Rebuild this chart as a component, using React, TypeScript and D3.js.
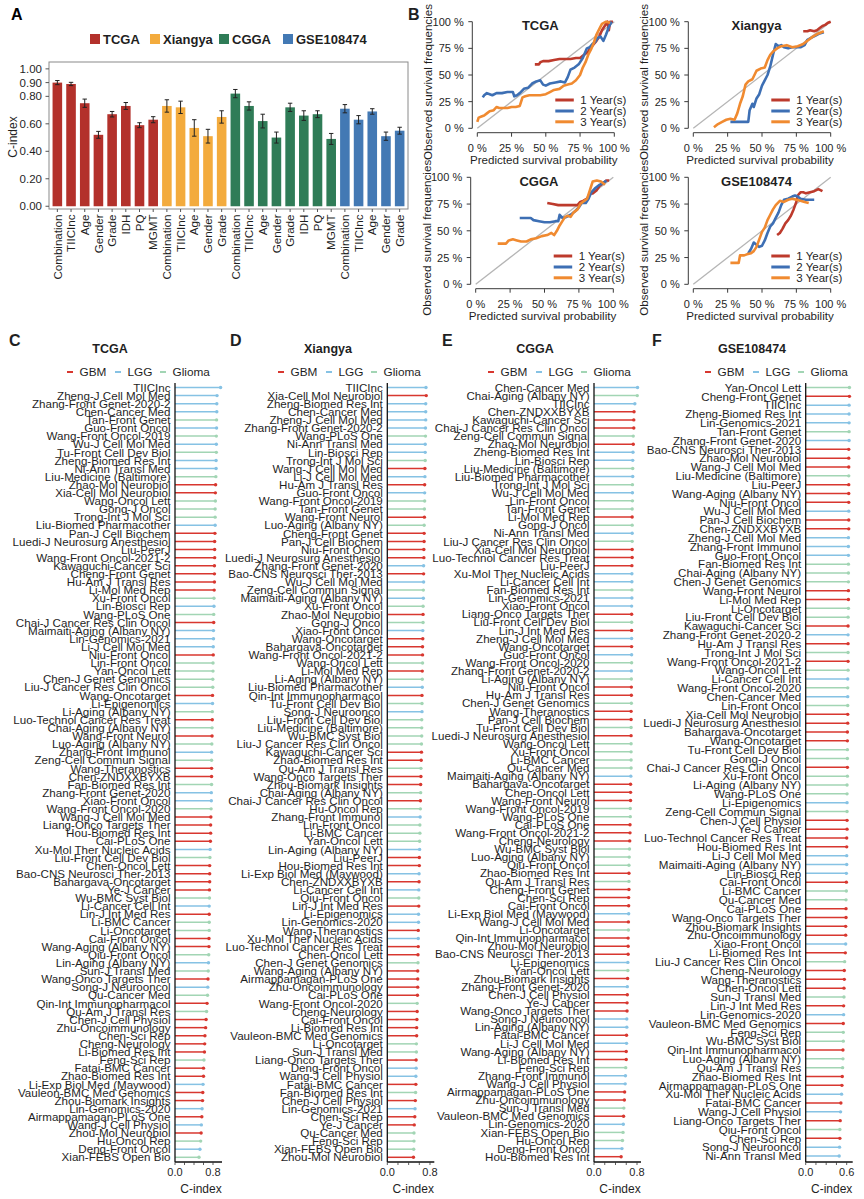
import { useEffect, useRef } from 'react'
import * as d3 from 'd3'

// ---------------- Panel A: C-index bars ----------------
const cohorts = ['TCGA', 'Xiangya', 'CGGA', 'GSE108474']
const cohortColors = ['#b3312b', '#f3ab3d', '#2f7c57', '#4379b4']

const barLabels = [
  'Combination', 'TIICInc', 'Age', 'Gender', 'Grade', 'IDH', 'PQ', 'MGMT',
  'Combination', 'TIICInc', 'Age', 'Gender', 'Grade',
  'Combination', 'TIICInc', 'Age', 'Gender', 'Grade', 'IDH', 'PQ', 'MGMT',
  'Combination', 'TIICInc', 'Age', 'Gender', 'Grade',
]
const barCohort = [0, 0, 0, 0, 0, 0, 0, 0, 1, 1, 1, 1, 1, 2, 2, 2, 2, 2, 2, 2, 2, 3, 3, 3, 3, 3]
const barValues = [
  0.90, 0.89, 0.75, 0.52, 0.67, 0.73, 0.59, 0.63,
  0.73, 0.72, 0.57, 0.51, 0.65,
  0.82, 0.73, 0.62, 0.50, 0.72, 0.66, 0.67, 0.49,
  0.71, 0.63, 0.69, 0.51, 0.55,
]
const barErrors = [
  0.015, 0.012, 0.03, 0.025, 0.02, 0.025, 0.018, 0.022,
  0.045, 0.045, 0.06, 0.05, 0.045,
  0.03, 0.03, 0.05, 0.04, 0.03, 0.035, 0.025, 0.04,
  0.03, 0.03, 0.02, 0.03, 0.025,
]
const yTicksA = [0, 0.2, 0.4, 0.6, 0.8, 0.9, 1.0]

// ---------------- Panel B: calibration curves (percent) ----------------
const yearLabels = ['1 Year(s)', '2 Year(s)', '3 Year(s)']
const yearColors = ['#bd3a2c', '#3d6fb4', '#f08a30']
const calTicks = [0, 25, 50, 75, 100]

const tcga1y = [[42, 60], [45, 60], [46, 62], [48, 63], [52, 63], [56, 64], [60, 65], [64, 65], [68, 65], [72, 66], [75, 66], [77, 68], [79, 70], [81, 72], [83, 76], [85, 79], [87, 82], [89, 86], [91, 92], [93, 96], [95, 100], [96, 92], [97, 100], [99, 100]]
const tcga2y = [[4, 29], [5, 31], [7, 33], [9, 32], [11, 31], [14, 33], [18, 33], [22, 34], [26, 34], [27, 30], [29, 31], [31, 33], [34, 37], [37, 38], [40, 42], [43, 44], [46, 45], [48, 41], [50, 40], [53, 42], [57, 43], [61, 44], [64, 43], [66, 48], [68, 55], [71, 57], [74, 60], [77, 66], [80, 75], [82, 76], [84, 79], [86, 81], [88, 85], [90, 86], [92, 82], [94, 88], [96, 95], [98, 100]]
const tcga3y = [[0, 6], [1, 10], [3, 11], [5, 12], [7, 14], [9, 16], [12, 17], [14, 20], [16, 19], [19, 19], [22, 19], [25, 20], [28, 20], [31, 21], [33, 29], [35, 30], [38, 31], [42, 31], [46, 31], [50, 32], [53, 34], [56, 36], [60, 37], [63, 40], [66, 41], [69, 42], [72, 45], [75, 50], [77, 57], [79, 62], [81, 69], [83, 74], [85, 80], [87, 88], [89, 93], [91, 98], [94, 100], [97, 99]]

const xiangya1y = [[80, 91], [83, 91], [85, 92], [88, 91], [90, 92], [92, 94], [94, 96], [96, 97], [98, 99], [100, 100]]
const xiangya2y = [[27, 6], [31, 6], [36, 6], [40, 6], [41, 17], [43, 23], [44, 20], [46, 28], [48, 32], [50, 40], [52, 45], [54, 50], [56, 58], [58, 69], [60, 79], [62, 77], [64, 78], [66, 76], [69, 75], [72, 76], [75, 76], [78, 76], [81, 78], [83, 83], [86, 85], [89, 87], [92, 89], [95, 90]]
const xiangya3y = [[15, 1], [18, 4], [21, 6], [24, 8], [27, 9], [30, 8], [32, 14], [34, 23], [36, 30], [38, 41], [40, 44], [43, 46], [46, 54], [49, 56], [52, 57], [54, 64], [56, 69], [58, 72], [61, 75], [64, 77], [68, 78], [72, 76], [76, 77], [80, 79], [84, 83], [87, 86], [91, 89], [95, 91]]

const cgga1y = [[52, 76], [56, 75], [60, 74], [65, 74], [70, 74], [74, 74], [76, 77], [78, 78], [81, 80], [83, 85], [85, 85], [88, 88], [90, 92], [92, 94], [95, 97], [97, 97]]
const cgga2y = [[32, 62], [36, 62], [40, 62], [42, 60], [46, 59], [50, 58], [54, 58], [58, 59], [60, 59], [61, 65], [63, 62], [66, 63], [69, 65], [72, 68], [75, 72], [77, 76], [80, 76], [82, 80], [84, 86], [87, 90], [90, 93], [93, 95], [95, 97]]
const cgga3y = [[16, 38], [20, 38], [22, 38], [24, 41], [27, 42], [30, 41], [33, 40], [37, 40], [40, 42], [44, 43], [48, 45], [52, 46], [55, 48], [57, 46], [59, 50], [61, 55], [63, 59], [65, 63], [67, 64], [69, 63], [71, 67], [74, 70], [76, 75], [79, 78], [81, 80], [83, 88], [85, 96], [88, 97], [91, 96], [94, 93]]

const gse1y = [[61, 46], [63, 48], [65, 52], [67, 57], [69, 60], [71, 64], [73, 70], [75, 77], [76, 83], [78, 86], [80, 86], [82, 85], [85, 86], [88, 87], [91, 89], [94, 87]]
const gse2y = [[40, 29], [42, 33], [44, 39], [46, 37], [48, 35], [50, 36], [52, 41], [54, 48], [56, 54], [58, 57], [60, 62], [62, 67], [64, 74], [66, 79], [69, 80], [72, 82], [74, 83], [76, 82], [78, 80], [82, 79], [85, 79], [88, 79]]
const gse3y = [[27, 20], [30, 20], [33, 20], [34, 27], [37, 27], [39, 28], [42, 29], [44, 31], [46, 35], [48, 42], [50, 49], [52, 53], [54, 60], [56, 65], [58, 70], [60, 74], [63, 78], [66, 77], [69, 79], [72, 80], [75, 79], [78, 78], [81, 77], [84, 76]]

// ---------------- Panels C-F: published signatures ----------------
const sigTypes = ['GBM', 'LGG', 'Glioma']
const sigColors = ['#d8372f', '#86c2e4', '#a2d5b4']

const gbmSigs = [
  'Zhao-Mol Neurobiol', 'Xia-Cell Mol Neurobiol', 'Pan-J Cell Biochem', 'Luedi-J Neurosurg Anesthesiol', 'Liu-PeerJ',
  'Wang-Front Oncol-2021-2', 'Kawaguchi-Cancer Sci', 'Cheng-Front Genet', 'Hu-Am J Transl Res', 'Li-Mol Med Rep',
  'Chai-J Cancer Res Clin Oncol', 'Niu-Front Oncol', 'Wang-Oncotarget', 'Luo-Technol Cancer Res Treat', 'Wang-Front Neurol',
  'Wang-Theranostics', 'Chen-ZNDXXBYXB', 'Wang-J Cell Mol Med', 'Liang-Onco Targets Ther', 'Hou-Biomed Res Int',
  'Cai-PLoS One', 'Chen-Oncol Lett', 'Bao-CNS Neurosci Ther-2013', 'Bahargava-Oncotarget', 'Ye-J Cancer',
  'Cai-Front Oncol', 'Wang-Aging (Albany NY)', 'Wang-Onco Targets Ther', 'Qin-Int Immunopharmacol', 'Chen-J Cell Physiol',
  'Zhu-Oncoimmunology', 'Chen-Sci Rep', 'Cheng-Neurology', 'Li-Biomed Res Int', 'Fatai-BMC Cancer',
  'Zhao-Biomed Res Int', 'Vauleon-BMC Med Genomics', 'Zhou-Biomark Insights', 'Airmappamagan-PLoS One', 'Zhou-Mol Neurobiol',
  'Lin-J Int Med Res',
]
const lggSigs = [
  'TIICInc', 'Zheng-J Cell Mol Med', 'Zhang-Front Genet-2020-2', 'Chen-Cancer Med', 'Guo-Front Oncol',
  'Wu-J Cell Mol Med', 'Zheng-Biomed Res Int', 'Ni-Ann Transl Med', 'Liu-Biomed Pharmacother', 'Lin-Biosci Rep',
  'Maimaiti-Aging (Albany NY)', 'Lin-Genomics-2021', 'Li-J Cell Mol Med', 'Li-Epigenomics', 'Zhang-Front Immunol',
  'Zhang-Front Genet-2020', 'Xiao-Front Oncol', 'Xu-Mol Ther Nucleic Acids', 'Li-Cancer Cell Int', 'Lin-Aging (Albany NY)',
  'Song-J Neurooncol', 'Li-Exp Biol Med (Maywood)', 'Lin-Genomics-2020', 'Wang-J Cell Physiol', 'Deng-Front Oncol',
]

const tcgaSigs = [
  'TIICInc', 'Zheng-J Cell Mol Med', 'Zhang-Front Genet-2020-2', 'Chen-Cancer Med', 'Tan-Front Genet', 'Guo-Front Oncol',
  'Wang-Front Oncol-2019', 'Wu-J Cell Mol Med', 'Tu-Front Cell Dev Biol', 'Zheng-Biomed Res Int', 'Ni-Ann Transl Med',
  'Liu-Medicine (Baltimore)', 'Zhao-Mol Neurobiol', 'Xia-Cell Mol Neurobiol', 'Wang-Oncol Lett', 'Gong-J Oncol',
  'Trong-Int J Mol Sci', 'Liu-Biomed Pharmacother', 'Pan-J Cell Biochem', 'Luedi-J Neurosurg Anesthesiol', 'Liu-PeerJ',
  'Wang-Front Oncol-2021-2', 'Kawaguchi-Cancer Sci', 'Cheng-Front Genet', 'Hu-Am J Transl Res', 'Li-Mol Med Rep',
  'Xu-Front Oncol', 'Lin-Biosci Rep', 'Wang-PLoS One', 'Chai-J Cancer Res Clin Oncol', 'Maimaiti-Aging (Albany NY)',
  'Lin-Genomics-2021', 'Li-J Cell Mol Med', 'Niu-Front Oncol', 'Lin-Front Oncol', 'Yan-Oncol Lett',
  'Chen-J Genet Genomics', 'Liu-J Cancer Res Clin Oncol', 'Wang-Oncotarget', 'Li-Epigenomics', 'Li-Aging (Albany NY)',
  'Luo-Technol Cancer Res Treat', 'Chai-Aging (Albany NY)', 'Wang-Front Neurol', 'Luo-Aging (Albany NY)', 'Zhang-Front Immunol',
  'Zeng-Cell Commun Signal', 'Wang-Theranostics', 'Chen-ZNDXXBYXB', 'Fan-Biomed Res Int', 'Zhang-Front Genet-2020',
  'Xiao-Front Oncol', 'Wang-Front Oncol-2020', 'Wang-J Cell Mol Med', 'Liang-Onco Targets Ther', 'Hou-Biomed Res Int',
  'Cai-PLoS One', 'Xu-Mol Ther Nucleic Acids', 'Liu-Front Cell Dev Biol', 'Chen-Oncol Lett', 'Bao-CNS Neurosci Ther-2013',
  'Bahargava-Oncotarget', 'Ye-J Cancer', 'Wu-BMC Syst Biol', 'Li-Cancer Cell Int', 'Lin-J Int Med Res',
  'Li-BMC Cancer', 'Li-Oncotarget', 'Cai-Front Oncol', 'Wang-Aging (Albany NY)', 'Qiu-Front Oncol',
  'Lin-Aging (Albany NY)', 'Sun-J Transl Med', 'Wang-Onco Targets Ther', 'Song-J Neurooncol', 'Qu-Cancer Med',
  'Qin-Int Immunopharmacol', 'Qu-Am J Transl Res', 'Chen-J Cell Physiol', 'Zhu-Oncoimmunology', 'Chen-Sci Rep',
  'Cheng-Neurology', 'Li-Biomed Res Int', 'Feng-Sci Rep', 'Fatai-BMC Cancer', 'Zhao-Biomed Res Int',
  'Li-Exp Biol Med (Maywood)', 'Vauleon-BMC Med Genomics', 'Zhou-Biomark Insights', 'Lin-Genomics-2020', 'Airmappamagan-PLoS One',
  'Wang-J Cell Physiol', 'Zhou-Mol Neurobiol', 'Hu-Oncol Rep', 'Deng-Front Oncol', 'Xian-FEBS Open Bio',
]
const tcgaValues = [
  0.96, 0.885, 0.88, 0.88, 0.875, 0.875, 0.87, 0.87, 0.87, 0.865, 0.865, 0.86,
  0.855, 0.85, 0.85, 0.845, 0.845, 0.845, 0.84, 0.835, 0.835, 0.835, 0.83, 0.83, 0.83, 0.825,
  0.82, 0.82, 0.815, 0.815, 0.81, 0.81, 0.805, 0.805, 0.80,
  0.80, 0.795, 0.795, 0.79, 0.79, 0.785, 0.785, 0.78, 0.78, 0.775, 0.77,
  0.77, 0.77, 0.77, 0.77, 0.765, 0.765, 0.76, 0.755, 0.75, 0.75, 0.745, 0.74, 0.735, 0.73,
  0.73, 0.73, 0.725, 0.725, 0.72, 0.72, 0.72, 0.72, 0.715, 0.715,
  0.71, 0.705, 0.70, 0.695, 0.69, 0.685, 0.675, 0.665, 0.655, 0.645,
  0.63, 0.625, 0.62, 0.61, 0.60, 0.60, 0.59, 0.585, 0.58, 0.57,
  0.565, 0.555, 0.55, 0.54, 0.525, 0.505,
]

const xiangyaSigs = [
  'TIICInc', 'Xia-Cell Mol Neurobiol', 'Zheng-Biomed Res Int', 'Chen-Cancer Med', 'Zheng-J Cell Mol Med',
  'Zhang-Front Genet-2020-2', 'Wang-PLoS One', 'Ni-Ann Transl Med', 'Lin-Biosci Rep', 'Trong-Int J Mol Sci',
  'Wang-J Cell Mol Med', 'Li-J Cell Mol Med', 'Hu-Am J Transl Res', 'Guo-Front Oncol', 'Wang-Front Oncol-2019',
  'Tan-Front Genet', 'Wang-Front Neurol', 'Luo-Aging (Albany NY)', 'Cheng-Front Genet', 'Pan-J Cell Biochem',
  'Niu-Front Oncol', 'Luedi-J Neurosurg Anesthesiol', 'Zhang-Front Genet-2020', 'Bao-CNS Neurosci Ther-2013', 'Wu-J Cell Mol Med',
  'Zeng-Cell Commun Signal', 'Maimaiti-Aging (Albany NY)', 'Xu-Front Oncol', 'Zhao-Mol Neurobiol', 'Gong-J Oncol',
  'Xiao-Front Oncol', 'Wang-Oncotarget', 'Bahargava-Oncotarget', 'Wang-Front Oncol-2021-2', 'Wang-Oncol Lett',
  'Li-Mol Med Rep', 'Li-Aging (Albany NY)', 'Liu-Biomed Pharmacother', 'Qin-Int Immunopharmacol', 'Tu-Front Cell Dev Biol',
  'Song-J Neurooncol', 'Liu-Front Cell Dev Biol', 'Liu-Medicine (Baltimore)', 'Wu-BMC Syst Biol', 'Liu-J Cancer Res Clin Oncol',
  'Kawaguchi-Cancer Sci', 'Zhao-Biomed Res Int', 'Qu-Am J Transl Res', 'Wang-Onco Targets Ther', 'Zhou-Biomark Insights',
  'Chai-Aging (Albany NY)', 'Chai-J Cancer Res Clin Oncol', 'Hu-Oncol Rep', 'Zhang-Front Immunol', 'Lin-Front Oncol',
  'Li-BMC Cancer', 'Yan-Oncol Lett', 'Lin-Aging (Albany NY)', 'Liu-PeerJ', 'Hou-Biomed Res Int',
  'Li-Exp Biol Med (Maywood)', 'Chen-ZNDXXBYXB', 'Li-Cancer Cell Int', 'Qiu-Front Oncol', 'Lin-J Int Med Res',
  'Li-Epigenomics', 'Lin-Genomics-2020', 'Wang-Theranostics', 'Xu-Mol Ther Nucleic Acids', 'Luo-Technol Cancer Res Treat',
  'Chen-Oncol Lett', 'Chen-J Genet Genomics', 'Wang-Aging (Albany NY)', 'Airmappamagan-PLoS One', 'Zhu-Oncoimmunology',
  'Cai-PLoS One', 'Wang-Front Oncol-2020', 'Cheng-Neurology', 'Cai-Front Oncol', 'Li-Biomed Res Int',
  'Vauleon-BMC Med Genomics', 'Li-Oncotarget', 'Sun-J Transl Med', 'Liang-Onco Targets Ther', 'Deng-Front Oncol',
  'Wang-J Cell Physiol', 'Fatai-BMC Cancer', 'Fan-Biomed Res Int', 'Chen-J Cell Physiol', 'Lin-Genomics-2021',
  'Chen-Sci Rep', 'Ye-J Cancer', 'Qu-Cancer Med', 'Feng-Sci Rep', 'Xian-FEBS Open Bio', 'Zhou-Mol Neurobiol',
]
const xiangyaValues = [
  0.725, 0.73, 0.72, 0.72, 0.72, 0.715, 0.715, 0.71, 0.71, 0.71,
  0.705, 0.705, 0.70, 0.70, 0.70, 0.695, 0.695, 0.69, 0.69, 0.69,
  0.685, 0.685, 0.68, 0.68, 0.68, 0.675, 0.675, 0.67, 0.67, 0.67,
  0.665, 0.665, 0.66, 0.66, 0.66, 0.655, 0.655, 0.655, 0.65, 0.65,
  0.65, 0.645, 0.645, 0.645, 0.64, 0.64, 0.635, 0.63, 0.63, 0.625,
  0.625, 0.62, 0.62, 0.615, 0.61, 0.61, 0.605, 0.605, 0.60, 0.60,
  0.595, 0.595, 0.59, 0.59, 0.59, 0.585, 0.585, 0.58, 0.58, 0.58,
  0.575, 0.575, 0.57, 0.57, 0.57, 0.565, 0.56, 0.56, 0.555, 0.55,
  0.55, 0.545, 0.545, 0.54, 0.54, 0.535, 0.535, 0.53, 0.525, 0.52,
  0.515, 0.505, 0.50, 0.50, 0.495, 0.49,
]

const cggaSigs = [
  'Chen-Cancer Med', 'Chai-Aging (Albany NY)', 'TIICInc', 'Chen-ZNDXXBYXB', 'Kawaguchi-Cancer Sci',
  'Chai-J Cancer Res Clin Oncol', 'Zeng-Cell Commun Signal', 'Zhao-Mol Neurobiol', 'Zheng-Biomed Res Int', 'Lin-Biosci Rep',
  'Liu-Medicine (Baltimore)', 'Liu-Biomed Pharmacother', 'Trong-Int J Mol Sci', 'Wu-J Cell Mol Med', 'Lin-Front Oncol',
  'Tan-Front Genet', 'Li-Mol Med Rep', 'Gong-J Oncol', 'Ni-Ann Transl Med', 'Liu-J Cancer Res Clin Oncol',
  'Xia-Cell Mol Neurobiol', 'Luo-Technol Cancer Res Treat', 'Liu-PeerJ', 'Xu-Mol Ther Nucleic Acids', 'Li-Cancer Cell Int',
  'Fan-Biomed Res Int', 'Lin-Genomics-2021', 'Xiao-Front Oncol', 'Liang-Onco Targets Ther', 'Liu-Front Cell Dev Biol',
  'Lin-J Int Med Res', 'Zheng-J Cell Mol Med', 'Wang-Oncotarget', 'Guo-Front Oncol', 'Wang-Front Oncol-2020',
  'Zhang-Front Genet-2020-2', 'Li-Aging (Albany NY)', 'Niu-Front Oncol', 'Hu-Am J Transl Res', 'Chen-J Genet Genomics',
  'Wang-Theranostics', 'Pan-J Cell Biochem', 'Tu-Front Cell Dev Biol', 'Luedi-J Neurosurg Anesthesiol', 'Wang-Oncol Lett',
  'Xu-Front Oncol', 'Li-BMC Cancer', 'Qu-Cancer Med', 'Maimaiti-Aging (Albany NY)', 'Bahargava-Oncotarget',
  'Chen-Oncol Lett', 'Wang-Front Neurol', 'Wang-Front Oncol-2019', 'Wang-PLoS One', 'Cai-PLoS One',
  'Wang-Front Oncol-2021-2', 'Cheng-Neurology', 'Wu-BMC Syst Biol', 'Luo-Aging (Albany NY)', 'Qiu-Front Oncol',
  'Zhao-Biomed Res Int', 'Qu-Am J Transl Res', 'Cheng-Front Genet', 'Chen-Sci Rep', 'Cai-Front Oncol',
  'Li-Exp Biol Med (Maywood)', 'Wang-J Cell Mol Med', 'Li-Oncotarget', 'Qin-Int Immunopharmacol', 'Zhou-Mol Neurobiol',
  'Bao-CNS Neurosci Ther-2013', 'Li-Epigenomics', 'Yan-Oncol Lett', 'Zhou-Biomark Insights', 'Zhang-Front Genet-2020',
  'Chen-J Cell Physiol', 'Ye-J Cancer', 'Wang-Onco Targets Ther', 'Song-J Neurooncol', 'Lin-Aging (Albany NY)',
  'Fatai-BMC Cancer', 'Li-J Cell Mol Med', 'Wang-Aging (Albany NY)', 'Li-Biomed Res Int', 'Feng-Sci Rep',
  'Zhang-Front Immunol', 'Wang-J Cell Physiol', 'Airmappamagan-PLoS One', 'Zhu-Oncoimmunology', 'Sun-J Transl Med',
  'Vauleon-BMC Med Genomics', 'Lin-Genomics-2020', 'Xian-FEBS Open Bio', 'Hu-Oncol Rep', 'Deng-Front Oncol',
  'Hou-Biomed Res Int',
]
const cggaValues = [
  0.81, 0.805, 0.76, 0.745, 0.74, 0.74, 0.73, 0.73, 0.725, 0.72,
  0.72, 0.72, 0.715, 0.715, 0.715, 0.71, 0.71, 0.71, 0.71, 0.71,
  0.71, 0.71, 0.705, 0.705, 0.705, 0.705, 0.705, 0.70, 0.70, 0.70,
  0.70, 0.70, 0.70, 0.70, 0.70, 0.695, 0.695, 0.695, 0.695, 0.695,
  0.69, 0.69, 0.69, 0.69, 0.69, 0.69, 0.69, 0.69, 0.685, 0.68,
  0.68, 0.68, 0.675, 0.675, 0.67, 0.67, 0.665, 0.66, 0.655, 0.65,
  0.65, 0.65, 0.65, 0.645, 0.645, 0.645, 0.64, 0.64, 0.635, 0.635,
  0.635, 0.63, 0.63, 0.625, 0.62, 0.62, 0.615, 0.615, 0.61, 0.61,
  0.605, 0.605, 0.60, 0.60, 0.59, 0.585, 0.58, 0.57, 0.565, 0.555,
  0.55, 0.545, 0.54, 0.53, 0.52, 0.505,
]

const gseSigs = [
  'Yan-Oncol Lett', 'Cheng-Front Genet', 'TIICInc', 'Zheng-Biomed Res Int', 'Lin-Genomics-2021',
  'Tan-Front Genet', 'Zhang-Front Genet-2020', 'Bao-CNS Neurosci Ther-2013', 'Zhao-Mol Neurobiol', 'Wang-J Cell Mol Med',
  'Liu-Medicine (Baltimore)', 'Liu-PeerJ', 'Wang-Aging (Albany NY)', 'Niu-Front Oncol', 'Wu-J Cell Mol Med',
  'Pan-J Cell Biochem', 'Chen-ZNDXXBYXB', 'Zheng-J Cell Mol Med', 'Zhang-Front Immunol', 'Guo-Front Oncol',
  'Fan-Biomed Res Int', 'Chai-Aging (Albany NY)', 'Chen-J Genet Genomics', 'Wang-Front Neurol', 'Li-Mol Med Rep',
  'Li-Oncotarget', 'Liu-Front Cell Dev Biol', 'Kawaguchi-Cancer Sci', 'Zhang-Front Genet-2020-2', 'Hu-Am J Transl Res',
  'Trong-Int J Mol Sci', 'Wang-Front Oncol-2021-2', 'Wang-Oncol Lett', 'Li-Cancer Cell Int', 'Wang-Front Oncol-2020',
  'Chen-Cancer Med', 'Lin-Front Oncol', 'Xia-Cell Mol Neurobiol', 'Luedi-J Neurosurg Anesthesiol', 'Bahargava-Oncotarget',
  'Wang-Oncotarget', 'Tu-Front Cell Dev Biol', 'Gong-J Oncol', 'Chai-J Cancer Res Clin Oncol', 'Xu-Front Oncol',
  'Li-Aging (Albany NY)', 'Wang-PLoS One', 'Li-Epigenomics', 'Zeng-Cell Commun Signal', 'Chen-J Cell Physiol',
  'Ye-J Cancer', 'Luo-Technol Cancer Res Treat', 'Hou-Biomed Res Int', 'Li-J Cell Mol Med', 'Maimaiti-Aging (Albany NY)',
  'Lin-Biosci Rep', 'Cai-Front Oncol', 'Li-BMC Cancer', 'Qu-Cancer Med', 'Cai-PLoS One',
  'Wang-Onco Targets Ther', 'Zhou-Biomark Insights', 'Zhu-Oncoimmunology', 'Xiao-Front Oncol', 'Li-Biomed Res Int',
  'Liu-J Cancer Res Clin Oncol', 'Cheng-Neurology', 'Wang-Theranostics', 'Chen-Oncol Lett', 'Sun-J Transl Med',
  'Lin-J Int Med Res', 'Lin-Genomics-2020', 'Vauleon-BMC Med Genomics', 'Feng-Sci Rep', 'Wu-BMC Syst Biol',
  'Qin-Int Immunopharmacol', 'Luo-Aging (Albany NY)', 'Qu-Am J Transl Res', 'Zhao-Biomed Res Int', 'Airmappamagan-PLoS One',
  'Xu-Mol Ther Nucleic Acids', 'Fatai-BMC Cancer', 'Wang-J Cell Physiol', 'Liang-Onco Targets Ther', 'Qiu-Front Oncol',
  'Chen-Sci Rep', 'Song-J Neurooncol', 'Ni-Ann Transl Med',
]
const gseValues = [
  0.64, 0.64, 0.635, 0.635, 0.635, 0.635, 0.635, 0.63, 0.63, 0.63,
  0.63, 0.63, 0.63, 0.63, 0.63, 0.63, 0.63, 0.625, 0.625, 0.625,
  0.625, 0.625, 0.625, 0.625, 0.625, 0.625, 0.62, 0.62, 0.62, 0.62,
  0.62, 0.62, 0.62, 0.615, 0.615, 0.615, 0.615, 0.615, 0.615, 0.61,
  0.61, 0.61, 0.61, 0.61, 0.61, 0.605, 0.605, 0.605, 0.605, 0.605,
  0.605, 0.60, 0.60, 0.60, 0.60, 0.595, 0.595, 0.595, 0.59, 0.59,
  0.59, 0.585, 0.585, 0.585, 0.58, 0.57, 0.565, 0.565, 0.56, 0.56,
  0.555, 0.555, 0.55, 0.55, 0.55, 0.545, 0.545, 0.54, 0.535, 0.53,
  0.525, 0.515, 0.51, 0.505, 0.50, 0.50, 0.495, 0.49,
]

const FONT = "'Liberation Sans', Arial, Helvetica, sans-serif"
const INK = '#1f1f1f'

type Svg = d3.Selection<SVGSVGElement, unknown, null, undefined>

function sigType(name: string) {
  if (gbmSigs.includes(name)) return 0
  if (lggSigs.includes(name)) return 1
  return 2
}

function drawBars(svg: Svg) {
  const g = svg.append('g')
  const x = d3.scaleBand<number>()
    .domain(d3.range(barLabels.length))
    .range([50.5, 406.5])
    .paddingInner(0.3)
    .paddingOuter(0.15)
  const y = d3.scaleLinear().domain([-0.02, 1.05]).range([209, 62])

  g.append('text').attr('x', 11).attr('y', 20).attr('font-size', 16).attr('font-weight', 'bold').text('A')

  // legend
  const legendX = [90, 150, 219, 283]
  cohorts.forEach((c, i) => {
    g.append('rect').attr('x', legendX[i]).attr('y', 34).attr('width', 10).attr('height', 10)
      .attr('fill', cohortColors[i])
    g.append('text').attr('x', legendX[i] + 13).attr('y', 43.5).attr('font-size', 13)
      .attr('font-weight', 'bold').attr('fill', INK).text(c)
  })

  g.append('rect').attr('x', 49).attr('y', 62).attr('width', 359).attr('height', 147)
    .attr('fill', 'none').attr('stroke', '#8a8a8a').attr('stroke-width', 1)

  g.selectAll('rect.bar')
    .data(barValues)
    .enter().append('rect')
    .attr('class', 'bar')
    .attr('x', (_, i) => x(i) as number)
    .attr('y', d => y(d))
    .attr('width', x.bandwidth())
    .attr('height', d => y(0) - y(d))
    .attr('fill', (_, i) => cohortColors[barCohort[i]])

  barValues.forEach((v, i) => {
    const cx = (x(i) as number) + x.bandwidth() / 2
    const e = barErrors[i]
    g.append('line').attr('x1', cx).attr('x2', cx).attr('y1', y(v - e)).attr('y2', y(v + e))
      .attr('stroke', '#222').attr('stroke-width', 1)
    ;[v - e, v + e].forEach(t => {
      g.append('line').attr('x1', cx - 2.2).attr('x2', cx + 2.2).attr('y1', y(t)).attr('y2', y(t))
        .attr('stroke', '#222').attr('stroke-width', 1)
    })
    g.append('line').attr('x1', cx).attr('x2', cx).attr('y1', 209).attr('y2', 212)
      .attr('stroke', '#555')
    g.append('text')
      .attr('transform', `translate(${cx},${214.5}) rotate(-90)`)
      .attr('text-anchor', 'end').attr('dy', '0.36em')
      .attr('font-size', 11.6).attr('fill', INK)
      .text(barLabels[i])
  })

  yTicksA.forEach(t => {
    g.append('line').attr('x1', 45.5).attr('x2', 49).attr('y1', y(t)).attr('y2', y(t)).attr('stroke', '#555')
    g.append('text').attr('x', 42).attr('y', y(t)).attr('dy', '0.36em').attr('text-anchor', 'end')
      .attr('font-size', 11.5).attr('fill', INK).text(d3.format('.2f')(t))
  })

  g.append('text').attr('transform', 'translate(13,137) rotate(-90)').attr('text-anchor', 'middle')
    .attr('dy', '0.36em').attr('font-size', 12).attr('fill', INK).text('C-index')
}

interface CalPanel {
  title: string
  series: number[][][]
  x0: number
  x1: number
  y0: number
  y1: number
}

const calPanels: CalPanel[] = [
  { title: 'TCGA', series: [tcga1y, tcga2y, tcga3y], x0: 477.3, x1: 614.3, y0: 128.3, y1: 21.7 },
  { title: 'Xiangya', series: [xiangya1y, xiangya2y, xiangya3y], x0: 693.3, x1: 830.7, y0: 128.3, y1: 21.7 },
  { title: 'CGGA', series: [cgga1y, cgga2y, cgga3y], x0: 475.7, x1: 613.3, y0: 284.3, y1: 177.3 },
  { title: 'GSE108474', series: [gse1y, gse2y, gse3y], x0: 693.3, x1: 830.7, y0: 284.3, y1: 177.3 },
]

function drawCalibration(svg: Svg, p: CalPanel) {
  const g = svg.append('g')
  const x = d3.scaleLinear().domain([0, 100]).range([p.x0, p.x1])
  const y = d3.scaleLinear().domain([0, 100]).range([p.y0, p.y1])
  const axisColor = '#3a3a3a'
  const yAxisX = p.x0 - 5
  const xAxisY = p.y0 + 4.4

  // y axis
  g.append('line').attr('x1', yAxisX).attr('x2', yAxisX).attr('y1', y(0)).attr('y2', y(100))
    .attr('stroke', axisColor)
  calTicks.forEach(t => {
    g.append('line').attr('x1', yAxisX - 4).attr('x2', yAxisX).attr('y1', y(t)).attr('y2', y(t))
      .attr('stroke', axisColor)
    g.append('text').attr('x', p.x0 - 13.5).attr('y', y(t)).attr('dy', '0.36em').attr('text-anchor', 'end')
      .attr('font-size', 11).attr('fill', INK).text(`${t} %`)
  })
  // x axis
  g.append('line').attr('x1', x(0)).attr('x2', x(100)).attr('y1', xAxisY).attr('y2', xAxisY)
    .attr('stroke', axisColor)
  calTicks.forEach(t => {
    g.append('line').attr('x1', x(t)).attr('x2', x(t)).attr('y1', xAxisY).attr('y2', xAxisY + 4)
      .attr('stroke', axisColor)
    g.append('text').attr('x', x(t)).attr('y', p.y0 + 23.5).attr('text-anchor', 'middle')
      .attr('font-size', 11).attr('fill', INK).text(`${t} %`)
  })
  g.append('text').attr('x', (p.x0 + p.x1) / 2 - 2).attr('y', p.y0 + 36).attr('text-anchor', 'middle')
    .attr('font-size', 11.6).attr('fill', INK).text('Predicted survival probability')
  g.append('text').attr('transform', `translate(${p.x0 - 49},${(p.y0 + p.y1) / 2 + 7}) rotate(-90)`)
    .attr('text-anchor', 'middle').attr('dy', '0.36em')
    .attr('font-size', 11.6).attr('fill', INK).text('Observed survival frequencies')

  // reference diagonal
  g.append('line').attr('x1', x(0)).attr('y1', y(0)).attr('x2', x(100)).attr('y2', y(100))
    .attr('stroke', '#b5b5b5').attr('stroke-width', 1.3)

  const line = d3.line<number[]>().x(d => x(d[0])).y(d => y(d[1]))
  p.series.forEach((s, i) => {
    g.append('path').datum(s).attr('d', line).attr('fill', 'none')
      .attr('stroke', yearColors[i]).attr('stroke-width', 2.6)
      .attr('stroke-linejoin', 'round').attr('stroke-linecap', 'butt')
  })

  g.append('text').attr('x', x(46)).attr('y', p.y1 + 8.5).attr('text-anchor', 'middle')
    .attr('font-size', 13).attr('font-weight', 'bold').attr('fill', INK).text(p.title)

  const legendOffsets = [-28.3, -17.3, -6.5]
  yearLabels.forEach((lab, i) => {
    const ly = p.y0 + legendOffsets[i]
    g.append('line').attr('x1', p.x0 + 78).attr('x2', p.x0 + 96.5).attr('y1', ly).attr('y2', ly)
      .attr('stroke', yearColors[i]).attr('stroke-width', 3)
    g.append('text').attr('x', p.x0 + 103).attr('y', ly).attr('dy', '0.36em')
      .attr('font-size', 11.5).attr('fill', INK).text(lab)
  })
}

interface LolliPanel {
  letter: string
  title: string
  labels: string[]
  values: number[]
  axisX: number
  tickMax: number
  tickMaxX: number
  tickStep: number
  letterX: number
  titleX: number
  legendX: number
  lastRowY: number
}

const lolliPanels: LolliPanel[] = [
  { letter: 'C', title: 'TCGA', labels: tcgaSigs, values: tcgaValues, axisX: 175, tickMax: 0.8, tickMaxX: 213, tickStep: 0.2, letterX: 9, titleX: 110, legendX: 67, lastRowY: 1157.3 },
  { letter: 'D', title: 'Xiangya', labels: xiangyaSigs, values: xiangyaValues, axisX: 387.3, tickMax: 0.8, tickMaxX: 430, tickStep: 0.2, letterX: 230, titleX: 328, legendX: 278, lastRowY: 1157.3 },
  { letter: 'E', title: 'CGGA', labels: cggaSigs, values: cggaValues, axisX: 594, tickMax: 0.8, tickMaxX: 637, tickStep: 0.2, letterX: 442, titleX: 535, legendX: 488, lastRowY: 1156.7 },
  { letter: 'F', title: 'GSE108474', labels: gseSigs, values: gseValues, axisX: 805.7, tickMax: 0.6, tickMaxX: 846.7, tickStep: 0.15, letterX: 652, titleX: 752, legendX: 705, lastRowY: 1156 },
]

function drawLollipop(svg: Svg, p: LolliPanel) {
  const g = svg.append('g')
  const y = d3.scalePoint<number>().domain(d3.range(p.labels.length)).range([387.5, p.lastRowY])
  const x = d3.scaleLinear().domain([0, p.tickMax]).range([p.axisX, p.tickMaxX])
  const bottom = 1162
  const axisEnd = p.axisX + 47

  g.append('text').attr('x', p.letterX).attr('y', 346).attr('font-size', 16).attr('font-weight', 'bold')
    .attr('fill', INK).text(p.letter)
  g.append('text').attr('x', p.titleX).attr('y', 352.5).attr('text-anchor', 'middle')
    .attr('font-size', 12.5).attr('font-weight', 'bold').attr('fill', INK).text(p.title)

  const legendOffsets = [0, 48, 93]
  sigTypes.forEach((t, i) => {
    const lx = p.legendX + legendOffsets[i]
    g.append('line').attr('x1', lx).attr('x2', lx + 6).attr('y1', 372).attr('y2', 372)
      .attr('stroke', sigColors[i]).attr('stroke-width', 2)
    g.append('text').attr('x', lx + 12.5).attr('y', 372).attr('dy', '0.36em')
      .attr('font-size', 11.8).attr('fill', INK).text(t)
  })

  p.labels.forEach((name, i) => {
    const c = sigColors[sigType(name)]
    const v = p.values[i]
    g.append('line').attr('x1', x(0)).attr('x2', x(v)).attr('y1', y(i)).attr('y2', y(i))
      .attr('stroke', c).attr('stroke-width', 1.5)
    g.append('circle').attr('cx', x(v)).attr('cy', y(i)).attr('r', 1.7).attr('fill', c)
    g.append('text').attr('x', p.axisX - 4.5).attr('y', y(i)).attr('dy', '0.36em')
      .attr('text-anchor', 'end').attr('font-size', 11.6).attr('fill', INK).text(name)
  })

  g.append('line').attr('x1', p.axisX).attr('x2', p.axisX).attr('y1', 383).attr('y2', bottom)
    .attr('stroke', '#111').attr('stroke-width', 1.3)
  g.append('line').attr('x1', p.axisX).attr('x2', axisEnd).attr('y1', bottom).attr('y2', bottom)
    .attr('stroke', '#111').attr('stroke-width', 1.3)
  const ticks = d3.range(0, p.tickMax + 1e-6, p.tickStep)
  ticks.forEach(t => {
    g.append('line').attr('x1', x(t)).attr('x2', x(t)).attr('y1', bottom).attr('y2', bottom + 3)
      .attr('stroke', '#333').attr('stroke-width', 0.8)
  })
  ;[0, p.tickMax].forEach(t => {
    g.append('text').attr('x', x(t)).attr('y', 1176).attr('text-anchor', 'middle')
      .attr('font-size', 11).attr('fill', INK).text(d3.format('.1f')(t))
  })
  g.append('text').attr('x', p.axisX + 26).attr('y', 1192.5).attr('text-anchor', 'middle')
    .attr('font-size', 12).attr('fill', INK).text('C-index')
}

export default function App() {
  const ref = useRef<SVGSVGElement>(null)

  useEffect(() => {
    if (!ref.current) return
    const svg = d3.select(ref.current)
    svg.selectAll('*').remove()

    drawBars(svg)
    svg.append('text').attr('x', 408).attr('y', 20).attr('font-size', 16).attr('font-weight', 'bold')
      .attr('fill', INK).text('B')
    calPanels.forEach(p => drawCalibration(svg, p))
    lolliPanels.forEach(p => drawLollipop(svg, p))
  }, [])

  return (
    <svg
      ref={ref}
      width={864}
      height={1199}
      style={{ position: 'absolute', left: 0, top: 0, background: '#fff' }}
      fontFamily={FONT}
    />
  )
}
